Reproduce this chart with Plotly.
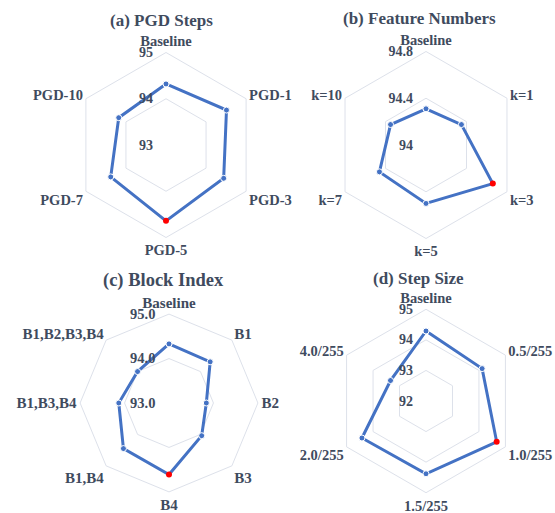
import plotly.graph_objects as go

# ---- data -------------------------------------------------------------
pgd_labels = ["Baseline", "PGD-1", "PGD-3", "PGD-5", "PGD-7", "PGD-10"]
pgd_values = [94.32, 94.51, 94.44, 94.64, 94.38, 94.18]

feat_labels = ["Baseline", "k=1", "k=3", "k=5", "k=7", "k=10"]
feat_values = [94.31, 94.35, 94.66, 94.50, 94.46, 94.35]

block_labels = ["Baseline", "B1", "B2", "B3", "B4", "B1,B4", "B1,B3,B4", "B1,B2,B3,B4"]
block_values = [94.33, 94.31, 93.84, 94.04, 94.61, 94.45, 94.13, 94.00]

step_labels = ["Baseline", "0.5/255", "1.0/255", "1.5/255", "2.0/255", "4.0/255"]
step_values = [94.29, 94.12, 94.67, 94.38, 94.42, 93.34]

titles = ["(a) PGD Steps", "(b) Feature Numbers", "(c) Block Index", "(d) Step Size"]
radial_ranges = [[93, 95], [94, 94.8], [93, 95], [92, 95]]
radial_ticks = [[93, 94, 95], [94, 94.4, 94.8], [93, 94, 95], [92, 93, 94, 95]]
radial_ticktext = [["93", "94", "95"], ["94", "94.4", "94.8"],
                   ["93.0", "94.0", "95.0"], ["92", "93", "94", "95"]]

# ---- styling ----------------------------------------------------------
W, H = 555, 513
TEXT = "#3f4b5e"
LINE = "#4472C4"
GRID = "#dde1ea"
FONT = "Liberation Serif"
PAD = "\u00a0" * 3  # keeps radial tick labels clear of the axis

# centre (px) and radius (px) of each panel
panels = [(166, 145, 92.5), (426, 145, 93.5), (169, 403, 88.9), (426, 401, 91.7)]
title_pos = [(161, 20), (419.5, 19), (163.3, 280), (418.3, 278.3)]
title_font = [17, 17, 18.5, 17]
angular_font = [14.5, 14.5, 15, 14.5]
radial_font = [14, 14, 14.5, 14]

series = [(pgd_labels, pgd_values), (feat_labels, feat_values),
          (block_labels, block_values), (step_labels, step_values)]

fig = go.Figure()
layout = dict(width=W, height=H, margin=dict(l=0, r=0, t=0, b=0),
              paper_bgcolor="white", showlegend=False, annotations=[])

for i, ((labels, vals), (cx, cy, R)) in enumerate(zip(series, panels)):
    name = "polar" if i == 0 else f"polar{i + 1}"
    best = max(range(len(vals)), key=lambda j: vals[j])
    colors = ["red" if j == best else LINE for j in range(len(vals))]
    lw = [0 if j == best else 1 for j in range(len(vals))]
    fig.add_trace(go.Scatterpolar(
        r=vals + [vals[0]], theta=labels + [labels[0]],
        mode="lines+markers", subplot=name,
        line=dict(color=LINE, width=3),
        marker=dict(size=6, color=colors + [colors[0]],
                    line=dict(color="white", width=lw + [lw[0]])),
        hoverinfo="r+theta",
    ))
    layout[name] = dict(
        domain=dict(x=[(cx - R) / W, (cx + R) / W],
                    y=[1 - (cy + R) / H, 1 - (cy - R) / H]),
        gridshape="linear",
        bgcolor="white",
        radialaxis=dict(range=radial_ranges[i], tickvals=radial_ticks[i],
                        ticktext=[t + PAD for t in radial_ticktext[i]],
                        angle=90, tickangle=90,
                        side="counterclockwise",
                        showline=False, ticks="", gridcolor=GRID, gridwidth=1,
                        tickfont=dict(family=FONT, size=radial_font[i],
                                      color=TEXT, weight="bold")),
        angularaxis=dict(direction="clockwise", rotation=90,
                         showline=True, linecolor=GRID, linewidth=1,
                         gridcolor="rgba(0,0,0,0)", ticks="",
                         tickfont=dict(family=FONT, size=angular_font[i],
                                       color=TEXT, weight="bold")),
    )
    tx, ty = title_pos[i]
    layout["annotations"].append(dict(
        text=f"<b>{titles[i]}</b>", x=tx / W, y=1 - ty / H,
        xref="paper", yref="paper", showarrow=False,
        xanchor="center", yanchor="middle",
        font=dict(family=FONT, size=title_font[i], color=TEXT)))

fig.update_layout(**layout)
fig.write_html("out.html")
